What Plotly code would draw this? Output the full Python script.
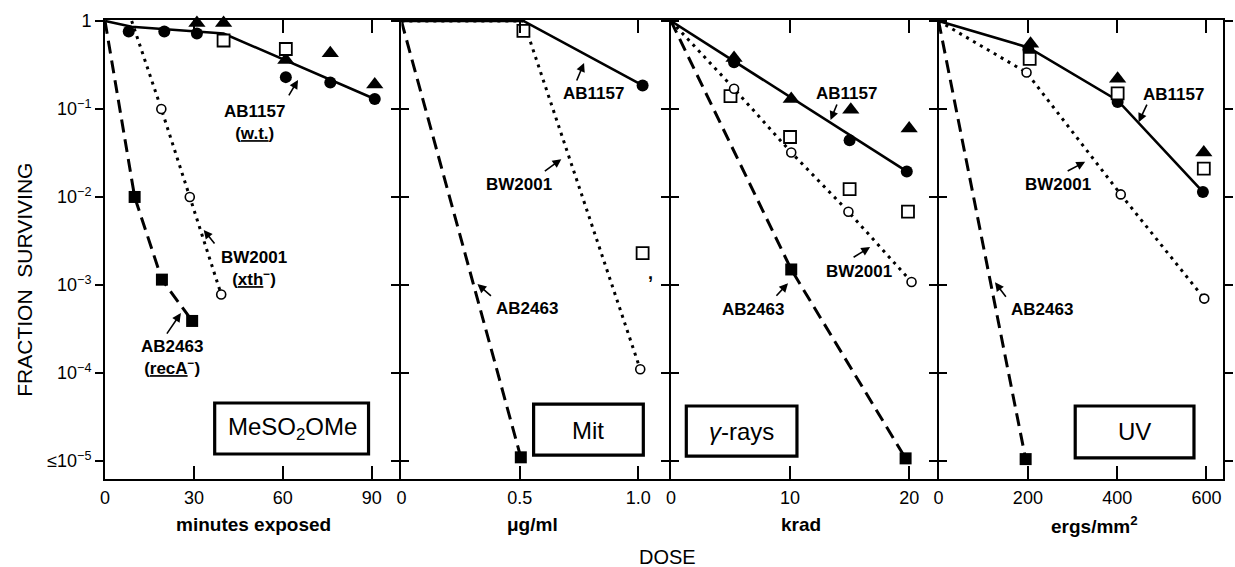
import math
import plotly.graph_objects as go

# ---------------- data ----------------
# Panel 1: MeSO2OMe, minutes exposed
mms_wt_circle_x = [8, 20, 31, 61, 76, 91]
mms_wt_circle_y = [0.76, 0.76, 0.72, 0.23, 0.20, 0.13]
mms_triangle_x = [31, 40, 61, 76, 91]
mms_triangle_y = [0.95, 0.95, 0.36, 0.43, 0.19]
mms_open_square_x = [20.6, 40, 61]
mms_open_square_y = [1.07, 0.60, 0.48]
mms_xth_x = [9, 19, 28.6, 39.2]
mms_xth_y = [1.05, 0.1, 0.01, 0.00078]
mms_reca_x = [10, 19.2, 29.4]
mms_reca_y = [0.01, 0.00115, 0.00039]
mms_wt_line_x = [0, 9, 40, 91]
mms_wt_line_y = [1.0, 0.86, 0.72, 0.13]
mms_xth_line_x = [9, 19, 28.6, 39.2]
mms_xth_line_y = [1.0, 0.1, 0.01, 0.00078]
mms_reca_line_x = [0, 10, 19.2, 29.4]
mms_reca_line_y = [1.0, 0.01, 0.00115, 0.00039]

# Panel 2: Mit, ug/ml
mit_wt_circle_x = [0.515, 1.018]
mit_wt_circle_y = [1.15, 0.185]
mit_triangle_x = []
mit_triangle_y = []
mit_open_square_x = [0.515, 1.018]
mit_open_square_y = [0.77, 0.0023]
mit_xth_x = [1.008]
mit_xth_y = [1.1e-4]
mit_reca_x = [0.504]
mit_reca_y = [1.1e-5]
mit_wt_line_x = [0, 0.515, 1.018]
mit_wt_line_y = [1.0, 1.0, 0.185]
mit_xth_line_x = [0, 0.515, 1.008]
mit_xth_line_y = [1.0, 1.0, 1.1e-4]
mit_reca_line_x = [0, 0.504]
mit_reca_line_y = [1.0, 1.1e-5]

# Panel 3: gamma-rays, krad
gam_wt_circle_x = [5.3, 15.0, 19.8]
gam_wt_circle_y = [0.34, 0.044, 0.0195]
gam_triangle_x = [5.3, 10.1, 15.1, 20.0]
gam_triangle_y = [0.38, 0.13, 0.098, 0.06]
gam_open_square_x = [5.0, 10.0, 15.0, 19.9]
gam_open_square_y = [0.14, 0.048, 0.0123, 0.0068]
gam_xth_x = [5.3, 10.1, 14.9, 20.2]
gam_xth_y = [0.17, 0.032, 0.0068, 0.00108]
gam_reca_x = [10.1, 19.7]
gam_reca_y = [0.0015, 1.07e-5]
gam_wt_line_x = [0, 19.8]
gam_wt_line_y = [1.0, 0.0195]
gam_xth_line_x = [0, 5.3, 10.1, 14.9, 20.2]
gam_xth_line_y = [1.0, 0.17, 0.032, 0.0068, 0.00108]
gam_reca_line_x = [0, 10.1, 19.7]
gam_reca_line_y = [1.0, 0.0015, 1.07e-5]

# Panel 4: UV, ergs/mm2
uv_wt_circle_x = [201, 401, 592]
uv_wt_circle_y = [0.47, 0.12, 0.0114]
uv_triangle_x = [206, 401, 594]
uv_triangle_y = [0.55, 0.22, 0.032]
uv_open_square_x = [204, 401, 594]
uv_open_square_y = [0.37, 0.15, 0.021]
uv_xth_x = [197, 408, 595]
uv_xth_y = [0.26, 0.0107, 0.0007]
uv_reca_x = [195]
uv_reca_y = [1.05e-5]
uv_wt_line_x = [0, 201, 401, 592]
uv_wt_line_y = [1.0, 0.5, 0.125, 0.0114]
uv_xth_line_x = [0, 197, 408, 595]
uv_xth_line_y = [1.0, 0.26, 0.0107, 0.0007]
uv_reca_line_x = [0, 195]
uv_reca_line_y = [1.0, 1.05e-5]

# axis ticks / titles
panel_names = ["MeSO<sub>2</sub>OMe", "Mit", "<i>γ</i>-rays", "UV"]
x_titles = ["minutes exposed", "μg/ml", "krad", "ergs/mm<sup>2</sup>"]
x_tickvals = [[0, 30, 60, 90], [0, 0.5, 1.0], [0, 10, 20], [0, 200, 400, 600]]
x_ticktext = [["0", "30", "60", "90"], ["0", "0.5", "1.0"], ["0", "10", "20"], ["0", "200", "400", "600"]]
x_ranges = [[0, 99.3], [0, 1.129], [0, 22.3], [0, 637]]
y_tickvals = [1, 1e-1, 1e-2, 1e-3, 1e-4, 1e-5]
y_ticktext = ["1", "10<sup>−1</sup>", "10<sup>−2</sup>", "10<sup>−3</sup>", "10<sup>−4</sup>", "≤10<sup>−5</sup>"]

# strain labels: (panel, text, x, log10 y)
label_panel = [0, 0, 0, 1, 1, 1, 2, 2, 2, 3, 3, 3]
label_text = ["AB1157<br>(<u>w.t.</u>)", "BW2001<br>(<u>xth</u><sup>−</sup>)", "AB2463<br>(<u>recA</u><sup>−</sup>)",
              "AB1157", "BW2001", "AB2463",
              "AB1157", "BW2001", "AB2463",
              "AB1157", "BW2001", "AB2463"]
label_x = [50.4, 50.4, 22.6, 0.8125, 0.496, 0.529, 14.73, 15.81, 6.85, 525.7, 268.4, 230.7]
label_ylog = [-1.15, -2.81, -3.82, -0.82, -1.86, -3.27, -0.82, -2.85, -3.28, -0.84, -1.86, -3.28]
# arrows: head (x, log10 y) and tail offset in pixels
arrow_x = [65.1, 33.3, 25.6, 0.771, 0.675, 0.321, 13.40, 16.72, 9.83, 448, 328.3, 126.4]
arrow_ylog = [-0.67, -2.375, -3.32, -0.477, -1.57, -2.99, -1.125, -2.57, -2.98, -1.15, -1.60, -2.97]
arrow_ax = [-10, 12, -15, -8, -18, 15, 7, -18, -13, 9, -19, 12]
arrow_ay = [17, 15, 22, 19, 13, 13, -17, 11, 14, -19, 10, 16]

# treatment boxes: x in data units, y in paper units
box_x0 = [37.0, 0.558, 1.29, 306]
box_x1 = [88.9, 1.021, 10.58, 572]
box_y0 = [0.0545, 0.052, 0.050, 0.046]
box_y1 = [0.1656, 0.163, 0.159, 0.159]
box_text_x = [63.1, 0.7875, 5.93, 439]
box_text_ylog = [-4.63, -4.65, -4.66, -4.67]

domains = [[0, 0.2633], [0.2651, 0.5044], [0.5062, 0.7438], [0.7456, 1.0]]
title_x = [50.2, 0.554, 10.9, 349]

# ---------------- figure ----------------
fig = go.Figure()

panels = [
    (mms_wt_line_x, mms_wt_line_y, mms_xth_line_x, mms_xth_line_y, mms_reca_line_x, mms_reca_line_y,
     mms_wt_circle_x, mms_wt_circle_y, mms_triangle_x, mms_triangle_y, mms_open_square_x, mms_open_square_y,
     mms_xth_x, mms_xth_y, mms_reca_x, mms_reca_y),
    (mit_wt_line_x, mit_wt_line_y, mit_xth_line_x, mit_xth_line_y, mit_reca_line_x, mit_reca_line_y,
     mit_wt_circle_x, mit_wt_circle_y, mit_triangle_x, mit_triangle_y, mit_open_square_x, mit_open_square_y,
     mit_xth_x, mit_xth_y, mit_reca_x, mit_reca_y),
    (gam_wt_line_x, gam_wt_line_y, gam_xth_line_x, gam_xth_line_y, gam_reca_line_x, gam_reca_line_y,
     gam_wt_circle_x, gam_wt_circle_y, gam_triangle_x, gam_triangle_y, gam_open_square_x, gam_open_square_y,
     gam_xth_x, gam_xth_y, gam_reca_x, gam_reca_y),
    (uv_wt_line_x, uv_wt_line_y, uv_xth_line_x, uv_xth_line_y, uv_reca_line_x, uv_reca_line_y,
     uv_wt_circle_x, uv_wt_circle_y, uv_triangle_x, uv_triangle_y, uv_open_square_x, uv_open_square_y,
     uv_xth_x, uv_xth_y, uv_reca_x, uv_reca_y),
]

FONT = "Liberation Sans, Arial, sans-serif"

for i, p in enumerate(panels):
    (wlx, wly, xlx, xly, rlx, rly, wcx, wcy, tx, ty, sx, sy, ox, oy, fx, fy) = p
    xa = "x" if i == 0 else f"x{i+1}"
    ya = "y" if i == 0 else f"y{i+1}"
    common = dict(xaxis=xa, yaxis=ya, showlegend=False, hoverinfo="skip")
    fig.add_trace(go.Scatter(x=wlx, y=wly, mode="lines", line=dict(color="black", width=2.6), **common))
    fig.add_trace(go.Scatter(x=xlx, y=xly, mode="lines", line=dict(color="black", width=3, dash="3px,5px"), **common))
    fig.add_trace(go.Scatter(x=rlx, y=rly, mode="lines", line=dict(color="black", width=3, dash="13px,7px"), **common))
    fig.add_trace(go.Scatter(x=wcx, y=wcy, mode="markers", cliponaxis=False,
                             marker=dict(symbol="circle", size=12, color="black"), **common))
    fig.add_trace(go.Scatter(x=tx, y=ty, mode="markers", cliponaxis=False,
                             marker=dict(symbol="triangle-up", size=15, color="black"), **common))
    fig.add_trace(go.Scatter(x=sx, y=sy, mode="markers", cliponaxis=False,
                             marker=dict(symbol="square", size=12, color="white", line=dict(color="black", width=1.8)), **common))
    fig.add_trace(go.Scatter(x=ox, y=oy, mode="markers", cliponaxis=False,
                             marker=dict(symbol="circle", size=9, color="white", line=dict(color="black", width=1.6)), **common))
    fig.add_trace(go.Scatter(x=fx, y=fy, mode="markers", cliponaxis=False,
                             marker=dict(symbol="square", size=12, color="black"), **common))

layout = dict(
    width=1235, height=567,
    margin=dict(l=105, r=2, t=20, b=88),
    paper_bgcolor="white", plot_bgcolor="white",
    font=dict(family=FONT, color="black", size=17),
    showlegend=False,
)

for i in range(4):
    xk = "xaxis" if i == 0 else f"xaxis{i+1}"
    yk = "yaxis" if i == 0 else f"yaxis{i+1}"
    ya = "y" if i == 0 else f"y{i+1}"
    xa = "x" if i == 0 else f"x{i+1}"
    layout[xk] = dict(
        domain=domains[i], range=x_ranges[i], anchor=ya,
        tickvals=x_tickvals[i], ticktext=x_ticktext[i],
        ticks="inside", ticklen=13, tickwidth=2, tickcolor="black",
        showline=True, linewidth=2, linecolor="black", mirror="ticks",
        showgrid=False, zeroline=False,
        tickfont=dict(size=18, family=FONT, color="black"),
        ticklabelstandoff=1,
    )
    layout[yk] = dict(
        type="log", range=[-5.205, 0.011], anchor=xa, domain=[0, 1],
        tickvals=y_tickvals, ticktext=y_ticktext,
        ticks="outside", ticklen=8, tickwidth=2, tickcolor="black",
        showline=True, linewidth=2, linecolor="black", mirror="ticks",
        showgrid=False, zeroline=False, showticklabels=(i == 0),
        tickfont=dict(size=18, family=FONT, color="black"),
    )

fig.update_layout(**layout)

annotations = []
shapes = []

for k in range(len(label_text)):
    i = label_panel[k]
    xa = "x" if i == 0 else f"x{i+1}"
    ya = "y" if i == 0 else f"y{i+1}"
    annotations.append(dict(x=label_x[k], y=label_ylog[k], xref=xa, yref=ya, text=label_text[k],
                            showarrow=False, font=dict(size=17, family=FONT, color="black", weight="bold"),
                            align="center"))
    annotations.append(dict(x=arrow_x[k], y=arrow_ylog[k], xref=xa, yref=ya, text="",
                            showarrow=True, arrowhead=2, arrowsize=1.1, arrowwidth=1.6, arrowcolor="black",
                            ax=arrow_ax[k], ay=arrow_ay[k]))

for i in range(4):
    xa = "x" if i == 0 else f"x{i+1}"
    ya = "y" if i == 0 else f"y{i+1}"
    shapes.append(dict(type="rect", xref=xa, yref="paper", x0=box_x0[i], x1=box_x1[i],
                       y0=box_y0[i], y1=box_y1[i], line=dict(color="black", width=3.2)))
    annotations.append(dict(x=box_text_x[i], y=box_text_ylog[i], xref=xa, yref=ya, text=panel_names[i],
                            showarrow=False, font=dict(size=24, family=FONT, color="black")))
    annotations.append(dict(x=title_x[i], y=-0.1002, xref=xa, yref="paper", text=x_titles[i],
                            showarrow=False, yanchor="middle",
                            font=dict(size=19, family=FONT, color="black", weight="bold")))

# stray comma beside the Mit open square
annotations.append(dict(x=1.05, y=-2.86, xref="x2", yref="y2", text=",", showarrow=False,
                        font=dict(size=18, family=FONT, color="black", weight="bold")))

annotations.append(dict(x=0.5027, y=-0.170, xref="paper", yref="paper", text="DOSE", showarrow=False,
                        yanchor="middle", font=dict(size=20, family=FONT, color="black")))
annotations.append(dict(x=-0.0718, y=0.4336, xref="paper", yref="paper", text="FRACTION  SURVIVING",
                        showarrow=False, textangle=-90, xanchor="center", yanchor="middle",
                        font=dict(size=21, family=FONT, color="black")))

fig.update_layout(annotations=annotations, shapes=shapes)
fig.write_html("out.html", config={"displayModeBar": False},
               post_script="document.body.style.margin='0';document.body.style.overflow='hidden';")
